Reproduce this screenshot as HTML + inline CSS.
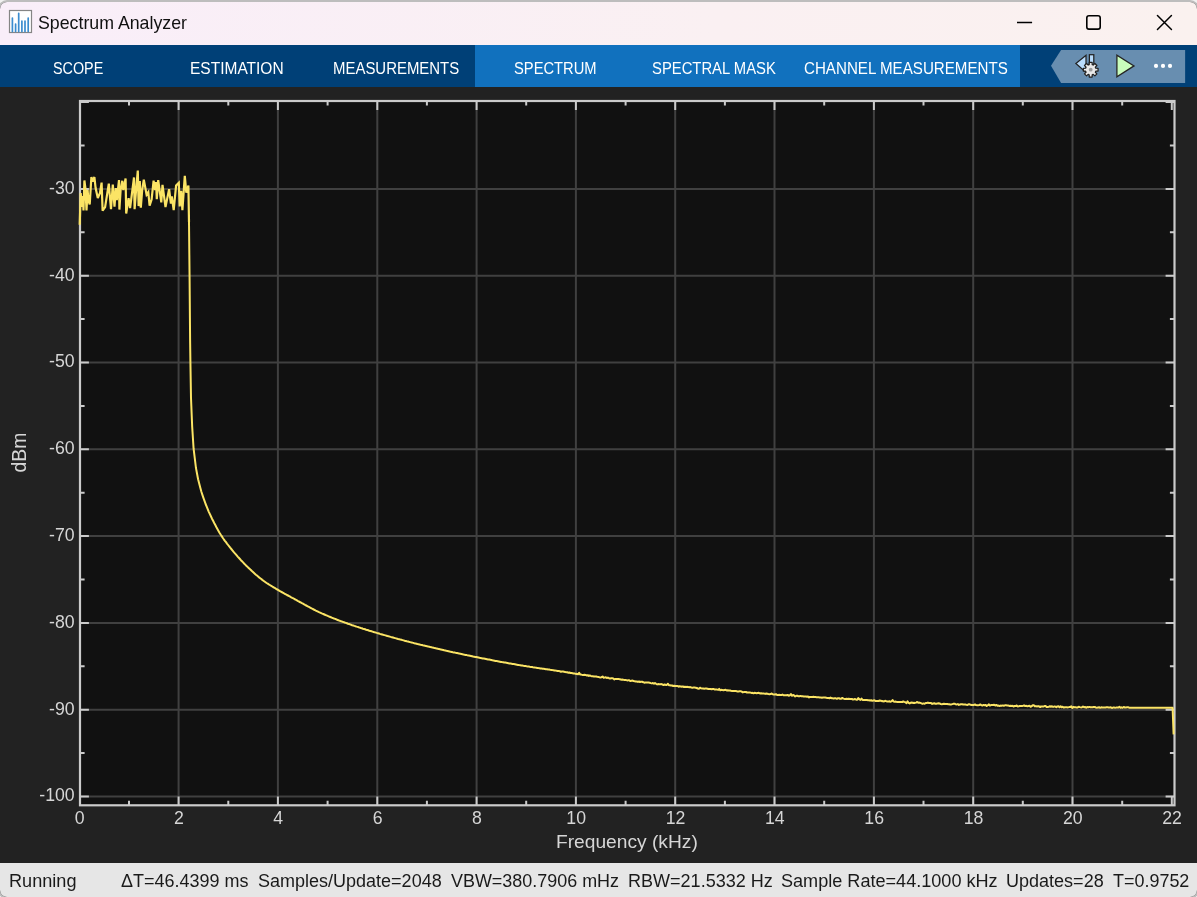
<!DOCTYPE html>
<html lang="en"><head><meta charset="utf-8"><title>Spectrum Analyzer</title>
<style>
html,body{margin:0;padding:0}
body{width:1197px;height:897px;overflow:hidden;background:#f1f1f1;position:relative;font-family:"Liberation Sans",sans-serif}
#win{position:absolute;left:-2px;top:0;width:1201px;height:899px;box-sizing:border-box;border:2px solid #bdbdbd;border-radius:9px;overflow:hidden;background:#222}
#inner{position:absolute;left:0;top:-2px;width:1197px;height:897px}
#title{position:absolute;left:0;top:0;width:1197px;height:45px;background:linear-gradient(90deg,#f9eef9 0%,#faf0f2 60%,#faf1ef 100%)}
#title .ttl{position:absolute;top:10.5px;font-size:18.5px;line-height:24px;color:#111;white-space:nowrap;transform-origin:0 50%}
#bar{position:absolute;left:0;top:45px;width:1197px;height:42px;background:#004077}
#bar .sel{position:absolute;left:475px;top:0;width:545px;height:42px;background:#1171be}
.tab{position:absolute;top:0;height:42px;line-height:47px;font-size:17.4px;color:#fff;white-space:nowrap;transform-origin:0 50%}
#status{position:absolute;left:0;top:863.4px;width:1197px;height:34px;background:#e6e6e6;color:#1a1a1a;font-size:18.3px;line-height:35px;white-space:nowrap}
#status span{position:absolute;top:0;transform-origin:0 50%}
</style></head><body>
<div id="win"><div id="inner">
<div id="title">
<svg width="26" height="26" viewBox="0 0 26 26" style="position:absolute;left:8px;top:9px">
<rect x="1.5" y="1.5" width="22" height="22" fill="#fff" stroke="#858585" stroke-width="1.2"/>
<path d="M4.4 22.5V9 M7.6 22.5V15.1 M10.7 22.5V4.3 M13.9 22.5V12 M17 22.5V12 M20.2 22.5V9" stroke="#3a8ccf" stroke-width="1.7" stroke-linecap="round" fill="none"/>
</svg>
<div class="ttl" id="ttl" style="left:37.50px;transform:scaleX(0.9595)">Spectrum Analyzer</div>
<svg width="200" height="45" viewBox="997 0 200 45" style="position:absolute;left:997px;top:0">
<path d="M1017 22.45h15.1" stroke="#000" stroke-width="1.45" fill="none"/>
<rect x="1086.8" y="15.8" width="13.4" height="13.3" rx="2.2" fill="none" stroke="#000" stroke-width="1.6"/>
<path d="M1157.45 15.45l14 14M1171.45 15.45l-14 14" stroke="#000" stroke-width="1.5" fill="none" stroke-linecap="round"/>
</svg>
</div>
<div id="bar"><div class="sel"></div>
<div class="tab" id="t1" style="left:53.00px;transform:scaleX(0.8259)">SCOPE</div>
<div class="tab" id="t2" style="left:190.00px;transform:scaleX(0.8918)">ESTIMATION</div>
<div class="tab" id="t3" style="left:333.00px;transform:scaleX(0.8592)">MEASUREMENTS</div>
<div class="tab" id="t4" style="left:513.50px;transform:scaleX(0.8465)">SPECTRUM</div>
<div class="tab" id="t5" style="left:651.50px;transform:scaleX(0.8521)">SPECTRAL MASK</div>
<div class="tab" id="t6" style="left:804.00px;transform:scaleX(0.8705)">CHANNEL MEASUREMENTS</div>
<svg width="150" height="42" viewBox="1047 45 150 42" style="position:absolute;left:1047px;top:0">
<path d="M1051 65.8l10.1-15.8h124v32.9h-124z" fill="#688eb0"/>
<path d="M1075.9 63.4L1086 55.2v17.2z" fill="#b9dcfc" stroke="#222" stroke-width="1.25" stroke-linejoin="miter"/>
<rect x="1089.4" y="54.7" width="4.4" height="11" fill="#b9dcfc" stroke="#222" stroke-width="1.25"/>
<path d="M1089.18 64.62 L1089.28 62.33 L1092.12 62.33 L1092.22 64.62 L1093.22 65.04 L1094.91 63.49 L1096.91 65.49 L1095.36 67.18 L1095.78 68.18 L1098.07 68.28 L1098.07 71.12 L1095.78 71.22 L1095.36 72.22 L1096.91 73.91 L1094.91 75.91 L1093.22 74.36 L1092.22 74.78 L1092.12 77.07 L1089.28 77.07 L1089.18 74.78 L1088.18 74.36 L1086.49 75.91 L1084.49 73.91 L1086.04 72.22 L1085.62 71.22 L1083.33 71.12 L1083.33 68.28 L1085.62 68.18 L1086.04 67.18 L1084.49 65.49 L1086.49 63.49 L1088.18 65.04Z" fill="#e9e9e9" stroke="#222" stroke-width="1.25" stroke-linejoin="round"/>
<circle cx="1090.7" cy="69.7" r="1.9" fill="#9c9c9c"/>
<path d="M1116.9 55.2V76.7L1134 65.9Z" fill="#c9fdbc" stroke="#262626" stroke-width="1.3" stroke-linejoin="miter"/>
<circle cx="1156" cy="65.9" r="2.1" fill="#fff"/><circle cx="1163" cy="65.9" r="2.1" fill="#fff"/><circle cx="1170" cy="65.9" r="2.1" fill="#fff"/>
</svg>
</div>
<svg id="plot" width="1197" height="777" viewBox="0 87 1197 777" style="position:absolute;left:0;top:87px">
<rect x="0" y="87" width="1197" height="777" fill="#222222"/>
<rect x="80.0" y="101.0" width="1094.5" height="704.3" fill="#111111"/>
<path d="M178.6 101.0 V805.3 M277.9 101.0 V805.3 M377.3 101.0 V805.3 M476.6 101.0 V805.3 M575.9 101.0 V805.3 M675.2 101.0 V805.3 M774.5 101.0 V805.3 M873.9 101.0 V805.3 M973.2 101.0 V805.3 M1072.5 101.0 V805.3 M80.0 796.5 H1174.5 M80.0 709.7 H1174.5 M80.0 622.9 H1174.5 M80.0 536.1 H1174.5 M80.0 449.3 H1174.5 M80.0 362.5 H1174.5 M80.0 275.7 H1174.5 M80.0 188.9 H1174.5" stroke="#404040" stroke-width="2" fill="none"/>
<path d="M129.0 805.3 v-4.6 M129.0 101.0 v4.6 M178.6 805.3 v-8.9 M178.6 101.0 v8.9 M228.3 805.3 v-4.6 M228.3 101.0 v4.6 M277.9 805.3 v-8.9 M277.9 101.0 v8.9 M327.6 805.3 v-4.6 M327.6 101.0 v4.6 M377.3 805.3 v-8.9 M377.3 101.0 v8.9 M426.9 805.3 v-4.6 M426.9 101.0 v4.6 M476.6 805.3 v-8.9 M476.6 101.0 v8.9 M526.2 805.3 v-4.6 M526.2 101.0 v4.6 M575.9 805.3 v-8.9 M575.9 101.0 v8.9 M625.6 805.3 v-4.6 M625.6 101.0 v4.6 M675.2 805.3 v-8.9 M675.2 101.0 v8.9 M724.9 805.3 v-4.6 M724.9 101.0 v4.6 M774.5 805.3 v-8.9 M774.5 101.0 v8.9 M824.2 805.3 v-4.6 M824.2 101.0 v4.6 M873.9 805.3 v-8.9 M873.9 101.0 v8.9 M923.5 805.3 v-4.6 M923.5 101.0 v4.6 M973.2 805.3 v-8.9 M973.2 101.0 v8.9 M1022.8 805.3 v-4.6 M1022.8 101.0 v4.6 M1072.5 805.3 v-8.9 M1072.5 101.0 v8.9 M1122.2 805.3 v-4.6 M1122.2 101.0 v4.6 M1171.8 805.3 v-8.9 M1171.8 101.0 v8.9 M80.0 796.5 h8.9 M1174.5 796.5 h-8.9 M80.0 753.1 h4.6 M1174.5 753.1 h-4.6 M80.0 709.7 h8.9 M1174.5 709.7 h-8.9 M80.0 666.3 h4.6 M1174.5 666.3 h-4.6 M80.0 622.9 h8.9 M1174.5 622.9 h-8.9 M80.0 579.5 h4.6 M1174.5 579.5 h-4.6 M80.0 536.1 h8.9 M1174.5 536.1 h-8.9 M80.0 492.7 h4.6 M1174.5 492.7 h-4.6 M80.0 449.3 h8.9 M1174.5 449.3 h-8.9 M80.0 405.9 h4.6 M1174.5 405.9 h-4.6 M80.0 362.5 h8.9 M1174.5 362.5 h-8.9 M80.0 319.1 h4.6 M1174.5 319.1 h-4.6 M80.0 275.7 h8.9 M1174.5 275.7 h-8.9 M80.0 232.3 h4.6 M1174.5 232.3 h-4.6 M80.0 188.9 h8.9 M1174.5 188.9 h-8.9 M80.0 145.5 h4.6 M1174.5 145.5 h-4.6 M80.0 102.1 h8.9 M1174.5 102.1 h-8.9" stroke="#cbcbcb" stroke-width="2" fill="none"/>
<rect x="80.0" y="101.0" width="1094.5" height="704.3" fill="none" stroke="#cbcbcb" stroke-width="2.2"/>
<path d="M79.7 224.8 L80.7 193.0 L81.8 207.0 L82.9 196.0 L83.5 210.5 L84.4 180.5 L85.5 189.0 L86.5 210.5 L87.6 190.0 L88.4 200.0 L89.7 204.5 L91.4 177.0 L92.6 181.5 L94.4 177.0 L95.6 188.0 L97.8 198.0 L100.0 193.0 L101.6 182.6 L102.6 210.7 L105.1 207.1 L108.8 183.6 L111.0 209.1 L112.8 184.6 L114.5 206.6 L115.8 188.1 L116.8 200.1 L119.0 180.0 L119.4 209.6 L120.6 190.1 L122.3 180.8 L123.3 190.1 L125.6 178.5 L126.2 213.5 L128.6 198.1 L130.1 208.1 L134.0 177.5 L134.6 209.2 L136.4 186.0 L137.8 170.5 L138.6 206.1 L139.8 181.0 L140.8 207.7 L142.2 190.0 L143.8 179.6 L146.6 194.6 L148.3 192.1 L149.6 205.6 L151.6 199.6 L153.6 180.6 L155.1 190.1 L156.1 182.1 L156.8 199.1 L158.2 180.1 L161.3 202.3 L162.5 184.9 L165.5 207.1 L169.1 189.1 L170.9 203.5 L171.8 196.5 L173.7 210.1 L176.1 185.5 L178.8 182.8 L179.7 206.5 L181.2 190.9 L182.4 210.1 L184.8 175.8 L186.3 192.7 L188.4 185.5 L189.0 222.0" stroke="#fbe465" stroke-width="2.2" fill="none" stroke-linejoin="miter" stroke-miterlimit="3"/>
<path d="M189.0 222.0 L189.6 280.0 L190.1 340.0 L190.4 361.7 L191.0 398.0 L192.2 427.0 L193.6 448.7 L195.9 467.5 L196.0 468.1 L197.1 474.0 L198.1 479.2 L199.2 483.6 L200.3 487.7 L201.3 491.5 L202.4 494.9 L203.5 498.1 L204.6 501.1 L205.6 504.0 L206.7 506.7 L207.8 509.3 L208.8 511.8 L209.9 514.2 L211.0 516.5 L212.0 518.7 L213.1 520.8 L214.2 523.0 L215.3 525.0 L216.3 527.0 L217.4 529.0 L218.5 530.9 L219.5 532.7 L220.6 534.5 L221.7 536.1 L222.7 537.7 L223.8 539.3 L224.9 540.8 L226.0 542.2 L227.0 543.6 L228.1 545.0 L229.2 546.4 L230.2 547.7 L231.3 549.0 L232.4 550.3 L233.4 551.6 L234.5 552.9 L235.6 554.1 L236.7 555.4 L237.7 556.6 L238.8 557.8 L239.9 559.0 L240.9 560.2 L242.0 561.3 L243.1 562.4 L244.1 563.5 L245.2 564.6 L246.3 565.7 L247.4 566.7 L248.4 567.8 L249.5 568.8 L250.6 569.8 L251.6 570.8 L252.7 571.8 L253.8 572.8 L254.8 573.7 L255.9 574.7 L257.0 575.6 L258.1 576.5 L259.1 577.4 L260.2 578.2 L261.3 579.1 L262.3 579.9 L263.4 580.7 L264.5 581.5 L265.5 582.2 L266.6 583.0 L267.7 583.7 L268.8 584.4 L269.8 585.0 L270.9 585.7 L272.0 586.3 L273.0 587.0 L274.1 587.6 L275.2 588.2 L276.2 588.9 L277.3 589.5 L278.4 590.1 L279.5 590.8 L280.5 591.4 L281.6 592.0 L282.7 592.6 L283.7 593.2 L284.8 593.8 L285.9 594.4 L286.9 595.0 L288.0 595.5 L289.1 596.1 L290.2 596.7 L291.2 597.3 L292.3 597.9 L293.4 598.4 L294.4 599.0 L295.5 599.6 L296.6 600.2 L297.6 600.8 L298.7 601.4 L299.8 602.0 L300.9 602.5 L301.9 603.1 L303.0 603.7 L304.1 604.3 L305.1 604.9 L306.2 605.5 L307.3 606.1 L308.3 606.7 L309.4 607.2 L310.5 607.8 L311.6 608.4 L312.6 608.9 L313.7 609.5 L314.8 610.0 L315.8 610.6 L316.9 611.1 L318.0 611.6 L319.0 612.1 L320.1 612.6 L321.2 613.1 L322.3 613.6 L323.3 614.0 L324.4 614.5 L325.5 615.0 L326.5 615.4 L327.6 615.9 L328.7 616.3 L329.7 616.8 L330.8 617.2 L331.9 617.7 L333.0 618.1 L334.0 618.5 L335.1 618.9 L336.2 619.3 L337.2 619.8 L338.3 620.2 L339.4 620.6 L340.4 621.0 L341.5 621.4 L342.6 621.8 L343.7 622.1 L344.7 622.5 L345.8 622.9 L346.9 623.3 L347.9 623.7 L349.0 624.0 L350.1 624.4 L351.1 624.8 L352.2 625.2 L353.3 625.5 L354.4 625.9 L355.4 626.2 L356.5 626.6 L357.6 626.9 L358.6 627.3 L359.7 627.6 L360.8 628.0 L361.8 628.3 L362.9 628.7 L364.0 629.0 L365.1 629.3 L366.1 629.7 L367.2 630.0 L368.3 630.3 L369.3 630.7 L370.4 631.0 L371.5 631.3 L372.5 631.6 L373.6 632.0 L374.7 632.3 L375.8 632.6 L376.8 632.9 L377.9 633.2 L379.0 633.5 L380.0 633.9 L381.1 634.2 L382.2 634.5 L383.2 634.8 L384.3 635.1 L385.4 635.4 L386.5 635.7 L387.5 636.0 L388.6 636.3 L389.7 636.6 L390.7 636.9 L391.8 637.2 L392.9 637.5 L393.9 637.8 L395.0 638.1 L396.1 638.4 L397.2 638.7 L398.2 639.0 L399.3 639.3 L400.4 639.6 L401.4 639.8 L402.5 640.1 L403.6 640.4 L404.6 640.7 L405.7 641.0 L406.8 641.3 L407.9 641.5 L408.9 641.8 L410.0 642.1 L411.1 642.4 L412.1 642.6 L413.2 642.9 L414.3 643.2 L415.3 643.4 L416.4 643.7 L417.5 644.0 L418.6 644.2 L419.6 644.5 L420.7 644.8 L421.8 645.0 L422.8 645.3 L423.9 645.6 L425.0 645.8 L426.0 646.1 L427.1 646.3 L428.2 646.6 L429.3 646.8 L430.3 647.1 L431.4 647.3 L432.5 647.6 L433.5 647.8 L434.6 648.1 L435.7 648.3 L436.7 648.6 L437.8 648.8 L438.9 649.1 L440.0 649.3 L441.0 649.6 L442.1 649.8 L443.2 650.0 L444.2 650.3 L445.3 650.5 L446.4 650.8 L447.4 651.0 L448.5 651.2 L449.6 651.5 L450.7 651.7 L451.7 651.9 L452.8 652.2 L453.9 652.4 L454.9 652.6 L456.0 652.9 L457.1 653.1 L458.1 653.3 L459.2 653.6 L460.3 653.8 L461.4 654.0 L462.4 654.2 L463.5 654.5 L464.6 654.7 L465.6 654.9 L466.7 655.1 L467.8 655.4 L468.8 655.6 L469.9 655.8 L471.0 656.0 L472.1 656.2 L473.1 656.5 L474.2 656.7 L475.3 656.9 L476.3 657.1 L477.4 657.3 L478.5 657.5 L479.5 657.8 L480.6 658.0 L481.7 658.2 L482.8 658.4 L483.8 658.6 L484.9 658.8 L486.0 659.0 L487.0 659.2 L488.1 659.4 L489.2 659.6 L490.2 659.8 L491.3 660.0 L492.4 660.3 L493.5 660.5 L494.5 660.7 L495.6 660.9 L496.7 661.1 L497.7 661.3 L498.8 661.5 L499.9 661.7 L500.9 661.9 L502.0 662.1 L503.1 662.2 L504.2 662.4 L505.2 662.6 L506.3 662.8 L507.4 663.0 L508.4 663.2 L509.5 663.4 L510.6 663.6 L511.6 663.8 L512.7 664.0 L513.8 664.1 L514.9 664.3 L515.9 664.5 L517.0 664.7 L518.1 664.9 L519.1 665.1 L520.2 665.2 L521.3 665.4 L522.3 665.6 L523.4 665.8 L524.5 665.9 L525.6 666.1 L526.6 666.3 L527.7 666.4 L528.8 666.6 L529.8 666.8 L530.9 666.9 L532.0 667.1 L533.0 667.3 L534.1 667.4 L535.2 667.6 L536.3 667.7 L537.3 667.9 L538.4 668.1 L539.5 668.2 L540.5 668.4 L541.6 668.5 L542.7 668.7 L543.7 668.8 L544.8 669.0 L545.9 669.2 L547.0 669.3 L548.0 669.5 L549.1 669.6 L550.2 669.8 L551.2 669.9 L552.3 670.1 L553.4 670.2 L554.4 670.4 L555.5 670.6 L556.6 670.7 L557.7 670.9 L558.7 671.0 L559.8 671.2 L560.9 671.8 L561.9 671.5 L563.0 671.6 L564.1 671.8 L565.1 672.1 L566.2 672.2 L567.3 672.3 L568.4 672.7 L569.4 672.5 L570.5 673.0 L571.6 673.0 L572.6 673.2 L573.7 673.5 L574.8 673.6 L575.8 673.9 L576.9 673.8 L578.0 674.3 L579.1 672.9 L580.1 674.4 L581.2 674.6 L582.3 674.9 L583.3 674.9 L584.4 674.7 L585.5 674.9 L586.5 675.4 L587.6 675.2 L588.7 675.9 L589.8 675.5 L590.8 675.9 L591.9 676.3 L593.0 676.3 L594.0 676.6 L595.1 676.6 L596.2 676.5 L597.2 676.8 L598.3 676.9 L599.4 677.2 L600.5 677.4 L601.5 677.2 L602.6 676.5 L603.7 677.7 L604.7 677.5 L605.8 677.2 L606.9 678.1 L607.9 677.5 L609.0 678.2 L610.1 678.6 L611.2 678.2 L612.2 678.3 L613.3 678.4 L614.4 679.4 L615.4 678.9 L616.5 679.0 L617.6 679.0 L618.6 679.1 L619.7 679.2 L620.8 679.5 L621.9 679.8 L622.9 679.6 L624.0 679.9 L625.1 679.9 L626.1 680.1 L627.2 680.4 L628.3 680.2 L629.3 680.3 L630.4 681.1 L631.5 680.8 L632.6 680.6 L633.6 681.0 L634.7 681.2 L635.8 681.4 L636.8 681.5 L637.9 681.9 L639.0 681.5 L640.0 682.0 L641.1 681.7 L642.2 681.8 L643.3 682.2 L644.3 682.7 L645.4 682.5 L646.5 682.6 L647.5 682.6 L648.6 682.5 L649.7 682.7 L650.7 683.1 L651.8 683.4 L652.9 683.0 L654.0 683.7 L655.0 683.0 L656.1 683.8 L657.2 684.4 L658.2 684.1 L659.3 684.3 L660.4 684.3 L661.4 684.1 L662.5 684.5 L663.6 685.1 L664.7 684.5 L665.7 684.9 L666.8 684.9 L667.9 683.8 L668.9 685.3 L670.0 685.2 L671.1 685.6 L672.1 685.5 L673.2 686.0 L674.3 685.8 L675.4 685.9 L676.4 686.1 L677.5 686.0 L678.6 686.7 L679.6 686.2 L680.7 686.4 L681.8 686.8 L682.8 686.4 L683.9 687.0 L685.0 686.7 L686.1 686.9 L687.1 686.8 L688.2 687.1 L689.3 687.3 L690.3 687.1 L691.4 687.5 L692.5 687.7 L693.5 687.6 L694.6 687.5 L695.7 687.7 L696.8 688.0 L697.8 688.5 L698.9 688.7 L700.0 687.7 L701.0 688.3 L702.1 688.4 L703.2 688.5 L704.2 688.7 L705.3 688.6 L706.4 688.5 L707.5 688.7 L708.5 689.0 L709.6 689.1 L710.7 689.0 L711.7 689.3 L712.8 689.1 L713.9 689.1 L714.9 689.6 L716.0 689.6 L717.1 689.6 L718.2 689.9 L719.2 688.9 L720.3 690.3 L721.4 689.8 L722.4 690.1 L723.5 690.3 L724.6 690.0 L725.6 689.8 L726.7 690.4 L727.8 690.3 L728.9 690.6 L729.9 690.5 L731.0 690.8 L732.1 691.0 L733.1 690.9 L734.2 691.0 L735.3 691.0 L736.3 691.1 L737.4 691.5 L738.5 691.4 L739.6 691.2 L740.6 691.2 L741.7 691.7 L742.8 692.4 L743.8 692.1 L744.9 692.0 L746.0 692.0 L747.0 692.5 L748.1 692.4 L749.2 692.4 L750.3 692.6 L751.3 692.9 L752.4 692.8 L753.5 693.3 L754.5 692.8 L755.6 693.0 L756.7 693.2 L757.7 693.0 L758.8 692.8 L759.9 693.4 L761.0 693.2 L762.0 693.5 L763.1 693.5 L764.2 693.6 L765.2 693.9 L766.3 693.5 L767.4 693.7 L768.4 694.0 L769.5 694.3 L770.6 694.1 L771.7 693.5 L772.7 694.3 L773.8 694.4 L774.9 694.4 L775.9 694.2 L777.0 694.9 L778.1 694.9 L779.1 694.8 L780.2 694.9 L781.3 695.1 L782.4 694.6 L783.4 695.2 L784.5 695.2 L785.6 695.2 L786.6 695.3 L787.7 694.9 L788.8 695.7 L789.8 695.4 L790.9 694.0 L792.0 695.8 L793.1 694.9 L794.1 695.4 L795.2 696.4 L796.3 695.8 L797.3 695.8 L798.4 696.2 L799.5 696.3 L800.5 695.9 L801.6 696.2 L802.7 696.3 L803.8 696.5 L804.8 696.4 L805.9 696.6 L807.0 696.8 L808.0 696.4 L809.1 697.4 L810.2 696.9 L811.2 697.0 L812.3 696.9 L813.4 696.8 L814.5 696.9 L815.5 697.0 L816.6 697.2 L817.7 697.2 L818.7 697.2 L819.8 697.4 L820.9 697.5 L821.9 697.7 L823.0 697.5 L824.1 697.6 L825.2 697.6 L826.2 697.8 L827.3 698.0 L828.4 697.9 L829.4 698.3 L830.5 697.6 L831.6 698.2 L832.6 698.3 L833.7 698.4 L834.8 698.2 L835.9 698.3 L836.9 698.8 L838.0 698.2 L839.1 698.3 L840.1 698.7 L841.2 698.7 L842.3 697.9 L843.3 698.6 L844.4 698.9 L845.5 699.0 L846.6 698.8 L847.6 699.0 L848.7 698.7 L849.8 699.0 L850.8 699.1 L851.9 699.0 L853.0 699.5 L854.0 699.3 L855.1 699.0 L856.2 699.7 L857.3 699.7 L858.3 698.1 L859.4 699.3 L860.5 699.9 L861.5 698.6 L862.6 699.9 L863.7 700.0 L864.7 699.9 L865.8 699.9 L866.9 700.1 L868.0 700.3 L869.0 700.2 L870.1 700.5 L871.2 700.3 L872.2 700.7 L873.3 700.5 L874.4 700.2 L875.4 700.9 L876.5 700.9 L877.6 701.1 L878.7 701.0 L879.7 700.5 L880.8 700.7 L881.9 701.2 L882.9 701.1 L884.0 701.5 L885.1 700.8 L886.1 701.1 L887.2 701.5 L888.3 701.6 L889.4 701.3 L890.4 701.7 L891.5 701.4 L892.6 700.1 L893.6 701.5 L894.7 701.7 L895.8 701.6 L896.8 701.9 L897.9 702.0 L899.0 702.1 L900.1 701.9 L901.1 702.0 L902.2 702.0 L903.3 701.5 L904.3 701.9 L905.4 702.3 L906.5 703.1 L907.5 701.4 L908.6 702.8 L909.7 703.4 L910.8 702.7 L911.8 702.5 L912.9 702.9 L914.0 702.8 L915.0 702.9 L916.1 702.6 L917.2 702.0 L918.2 702.8 L919.3 702.6 L920.4 702.9 L921.5 703.4 L922.5 703.8 L923.6 703.4 L924.7 703.7 L925.7 703.0 L926.8 703.0 L927.9 702.6 L928.9 703.0 L930.0 703.1 L931.1 703.1 L932.2 703.9 L933.2 703.5 L934.3 703.3 L935.4 703.7 L936.4 703.7 L937.5 703.4 L938.6 703.2 L939.6 703.4 L940.7 704.1 L941.8 704.2 L942.9 704.0 L943.9 703.8 L945.0 704.0 L946.1 704.0 L947.1 703.9 L948.2 704.3 L949.3 704.2 L950.3 704.6 L951.4 704.4 L952.5 704.1 L953.6 703.8 L954.6 703.7 L955.7 704.3 L956.8 704.4 L957.8 704.1 L958.9 704.9 L960.0 704.5 L961.0 704.2 L962.1 704.2 L963.2 704.5 L964.3 704.6 L965.3 704.6 L966.4 704.8 L967.5 704.9 L968.5 704.3 L969.6 704.3 L970.7 704.8 L971.7 705.0 L972.8 704.9 L973.9 704.9 L975.0 704.4 L976.0 705.1 L977.1 705.2 L978.2 705.2 L979.2 705.1 L980.3 704.5 L981.4 705.1 L982.4 705.6 L983.5 704.9 L984.6 705.2 L985.7 704.9 L986.7 706.0 L987.8 705.2 L988.9 704.4 L989.9 705.6 L991.0 705.1 L992.1 705.0 L993.1 705.0 L994.2 704.7 L995.3 705.6 L996.4 704.9 L997.4 705.7 L998.5 705.6 L999.6 706.0 L1000.6 705.6 L1001.7 705.7 L1002.8 705.4 L1003.8 705.8 L1004.9 705.3 L1006.0 705.3 L1007.1 705.4 L1008.1 705.5 L1009.2 705.9 L1010.3 705.7 L1011.3 706.0 L1012.4 705.8 L1013.5 706.5 L1014.5 706.0 L1015.6 706.1 L1016.7 705.5 L1017.8 706.4 L1018.8 706.3 L1019.9 705.9 L1021.0 706.0 L1022.0 705.9 L1023.1 705.7 L1024.2 705.4 L1025.2 706.1 L1026.3 705.8 L1027.4 706.3 L1028.5 706.0 L1029.5 705.8 L1030.6 706.8 L1031.7 706.2 L1032.7 705.3 L1033.8 705.3 L1034.9 706.4 L1035.9 706.1 L1037.0 706.5 L1038.1 706.1 L1039.2 706.5 L1040.2 707.0 L1041.3 706.4 L1042.4 706.4 L1043.4 706.6 L1044.5 706.1 L1045.6 706.0 L1046.6 707.1 L1047.7 706.9 L1048.8 706.7 L1049.9 706.3 L1050.9 706.7 L1052.0 706.3 L1053.1 706.9 L1054.1 706.6 L1055.2 706.6 L1056.3 707.2 L1057.3 706.4 L1058.4 706.3 L1059.5 707.2 L1060.6 706.2 L1061.6 707.2 L1062.7 706.8 L1063.8 707.6 L1064.8 707.2 L1065.9 707.3 L1067.0 707.3 L1068.0 707.4 L1069.1 707.1 L1070.2 707.0 L1071.3 706.4 L1072.3 707.9 L1073.4 707.0 L1074.5 707.3 L1075.5 707.3 L1076.6 707.6 L1077.7 707.4 L1078.7 706.7 L1079.8 707.1 L1080.9 707.4 L1082.0 707.3 L1083.0 706.5 L1084.1 707.3 L1085.2 707.0 L1086.2 707.8 L1087.3 707.0 L1088.4 707.2 L1089.4 706.9 L1090.5 707.3 L1091.6 707.3 L1092.7 707.3 L1093.7 707.0 L1094.8 707.0 L1095.9 707.6 L1096.9 707.7 L1098.0 707.4 L1099.1 707.2 L1100.1 707.8 L1101.2 707.3 L1102.3 707.5 L1103.4 707.4 L1104.4 707.6 L1105.5 707.5 L1106.6 707.2 L1107.6 707.2 L1108.7 707.6 L1109.8 707.5 L1110.8 707.3 L1111.9 708.0 L1113.0 707.6 L1114.1 707.6 L1115.1 707.7 L1116.2 707.6 L1117.3 707.4 L1118.3 707.6 L1119.4 706.8 L1120.5 707.8 L1121.5 707.3 L1122.6 707.8 L1123.7 707.0 L1124.8 707.5 L1125.8 707.6 L1126.9 707.3 L1128.0 707.2 L1129.0 707.7 L1130.1 707.7 L1131.2 707.7 L1132.2 707.7 L1133.3 707.7 L1134.4 707.7 L1135.5 707.7 L1136.5 707.7 L1137.6 707.7 L1138.7 707.7 L1139.7 707.7 L1140.8 707.7 L1141.9 707.7 L1142.9 707.7 L1144.0 707.7 L1145.1 707.7 L1146.2 707.7 L1147.2 707.7 L1148.3 707.7 L1149.4 707.7 L1150.4 707.7 L1151.5 707.7 L1152.6 707.7 L1153.6 707.7 L1154.7 707.7 L1155.8 707.7 L1156.9 707.7 L1157.9 707.7 L1159.0 707.7 L1160.1 707.7 L1161.1 707.7 L1162.2 707.7 L1163.3 707.7 L1164.3 707.7 L1165.4 707.7 L1166.5 707.7 L1167.6 707.7 L1168.6 707.7 L1169.7 707.7 L1170.8 707.7 L1171.8 707.7 L1172.6 707.7 L1173.6 734.4" stroke="#fbe465" stroke-width="2.0" fill="none" stroke-linejoin="round"/>
<g font-family="'Liberation Sans', sans-serif" font-size="17.7" fill="#d6d6d6">
<text x="79.6" y="824.2" text-anchor="middle">0</text>
<text x="178.9" y="824.2" text-anchor="middle">2</text>
<text x="278.2" y="824.2" text-anchor="middle">4</text>
<text x="377.6" y="824.2" text-anchor="middle">6</text>
<text x="476.9" y="824.2" text-anchor="middle">8</text>
<text x="576.2" y="824.2" text-anchor="middle">10</text>
<text x="675.5" y="824.2" text-anchor="middle">12</text>
<text x="774.8" y="824.2" text-anchor="middle">14</text>
<text x="874.2" y="824.2" text-anchor="middle">16</text>
<text x="973.5" y="824.2" text-anchor="middle">18</text>
<text x="1072.8" y="824.2" text-anchor="middle">20</text>
<text x="1172.1" y="824.2" text-anchor="middle">22</text>
<text x="74.7" y="801.4" text-anchor="end">-100</text>
<text x="74.7" y="714.6" text-anchor="end">-90</text>
<text x="74.7" y="627.8" text-anchor="end">-80</text>
<text x="74.7" y="541.0" text-anchor="end">-70</text>
<text x="74.7" y="454.2" text-anchor="end">-60</text>
<text x="74.7" y="367.4" text-anchor="end">-50</text>
<text x="74.7" y="280.6" text-anchor="end">-40</text>
<text x="74.7" y="193.8" text-anchor="end">-30</text>
<text x="626.9" y="847.8" text-anchor="middle" font-size="19.2">Frequency (kHz)</text>
<text transform="translate(26.3,452.5) rotate(-90)" text-anchor="middle" font-size="19.4">dBm</text>
</g></svg>
<div id="status">
<span id="s1" style="left:8.50px;transform:scaleX(0.9911)">Running</span>
<span id="s2" style="left:121.00px;transform:scaleX(0.9830)">ΔT=46.4399 ms</span>
<span id="s3" style="left:257.60px;transform:scaleX(0.9848)">Samples/Update=2048</span>
<span id="s4" style="left:450.50px;transform:scaleX(0.9812)">VBW=380.7906 mHz</span>
<span id="s5" style="left:627.60px;transform:scaleX(0.9862)">RBW=21.5332 Hz</span>
<span id="s6" style="left:780.50px;transform:scaleX(0.9890)">Sample Rate=44.1000 kHz</span>
<span id="s7" style="left:1005.50px;transform:scaleX(0.9856)">Updates=28</span>
<span id="s8" style="left:1113.10px;transform:scaleX(0.9819)">T=0.9752</span>
</div>
</div></div>
</body></html>
